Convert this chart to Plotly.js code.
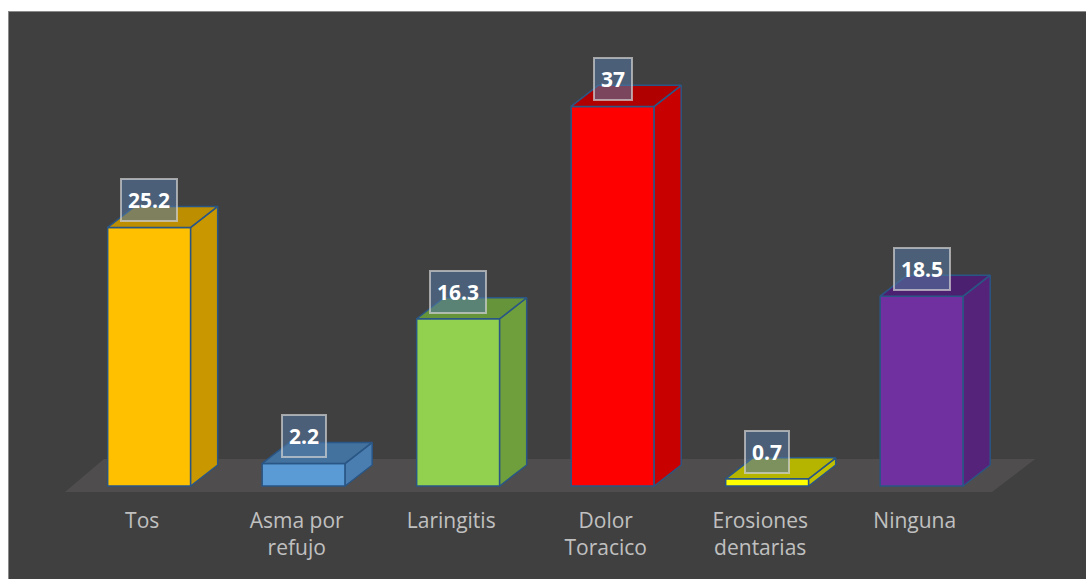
<!DOCTYPE html>
<html>
<head>
<meta charset="utf-8">
<script src="https://cdn.plot.ly/plotly-3.0.1.min.js"></script>
<style>
  html, body { margin: 0; padding: 0; background: #ffffff; width: 1086px; height: 579px; overflow: hidden; }
  #chart { position: absolute; left: 8px; top: 11px; width: 1077px; height: 567px;
           border-left: 1px solid #8a8a8a; border-top: 1px solid #8a8a8a; }
</style>
</head>
<body>
<div id="chart"></div>
<script>
// ---- data ----
const categories = ['Tos', 'Asma por<br>refujo', 'Laringitis', 'Dolor<br>Toracico', 'Erosiones<br>dentarias', 'Ninguna'];
const values = [25.2, 2.2, 16.3, 37, 0.7, 18.5];
const labels = ['25.2', '2.2', '16.3', '37', '0.7', '18.5'];

// ---- styles ----
const frontColors = ['#FFC000', '#5B9BD5', '#92D050', '#FF0000', '#FFFF00', '#7030A0'];
const sideColors  = ['#C99700', '#4A7DB0', '#6F9E3C', '#C80000', '#C0C000', '#55247A'];
const topColors   = ['#BC8E00', '#43729F', '#66943A', '#B00000', '#B5B500', '#4C2070'];
const edgeColor = '#2A5685';

const idx = categories.map((c, i) => i);
const shift = 0.045;      // bar front offset in category units
const barW = 0.537;       // bar width in category units
const dx = 0.175;         // depth offset x (category units)
const dy = 2.05;          // depth offset y (value units)

const xs = idx.map(i => i + shift);

const traces = [];
// front faces
traces.push({
  type: 'bar', x: xs, y: values, base: 0, width: barW,
  marker: { color: frontColors, line: { color: edgeColor, width: 1.5 } },
  hoverinfo: 'skip', showlegend: false
});
// side and top faces
idx.forEach(i => {
  const x0 = xs[i] - barW / 2, x1 = xs[i] + barW / 2, v = values[i];
  traces.push({
    type: 'scatter', mode: 'lines', fill: 'toself',
    x: [x1, x1 + dx, x1 + dx, x1, x1],
    y: [0, dy, v + dy, v, 0],
    fillcolor: sideColors[i], line: { color: edgeColor, width: 1.5 },
    hoverinfo: 'skip', showlegend: false
  });
  traces.push({
    type: 'scatter', mode: 'lines', fill: 'toself',
    x: [x0, x0 + dx, x1 + dx, x1, x0],
    y: [v, v + dy, v + dy, v, v],
    fillcolor: topColors[i], line: { color: edgeColor, width: 1.5 },
    hoverinfo: 'skip', showlegend: false
  });
});

// floor (layout geometry)
const fy0 = -0.585, fy1 = 2.63, fdxL = 0.252, fdxR = 0.28;
const floorPath = `M -0.5 ${fy0} L 5.5 ${fy0} L ${5.5 + fdxR} ${fy1} L ${-0.5 + fdxL} ${fy1} Z`;

const annotations = idx.map(i => ({
  x: xs[i], y: values[i], xref: 'x', yref: 'y',
  text: '<b>' + labels[i] + '</b>', showarrow: false,
  yanchor: 'middle', yshift: 27,
  font: { family: 'Open Sans', size: 21, color: '#ffffff' },
  bgcolor: 'rgba(83,119,160,0.58)', bordercolor: 'rgba(210,210,210,0.7)',
  borderwidth: 2, borderpad: 6
}));

const layout = {
  width: 1077, height: 567,
  margin: { l: 11, r: 16, t: 28, b: 79 },
  paper_bgcolor: '#404040', plot_bgcolor: 'rgba(0,0,0,0)',
  showlegend: false,
  bargap: 0,
  xaxis: {
    range: [-0.791, 6.005], tickmode: 'array', tickvals: idx, ticktext: categories,
    showgrid: false, zeroline: false, showline: false, ticks: '',
    tickfont: { family: 'Open Sans', size: 21, color: '#c0c0c0' },
    ticklabelstandoff: 6, fixedrange: true
  },
  yaxis: {
    range: [-1.3645, 43.47], visible: false, showgrid: false, zeroline: false, fixedrange: true
  },
  shapes: [{
    type: 'path', xref: 'x', yref: 'y', path: floorPath,
    fillcolor: '#4F4D4D', line: { width: 0 }, layer: 'below'
  }],
  annotations: annotations
};

Plotly.newPlot('chart', traces, layout, { displayModeBar: false, staticPlot: true });
</script>
</body>
</html>
